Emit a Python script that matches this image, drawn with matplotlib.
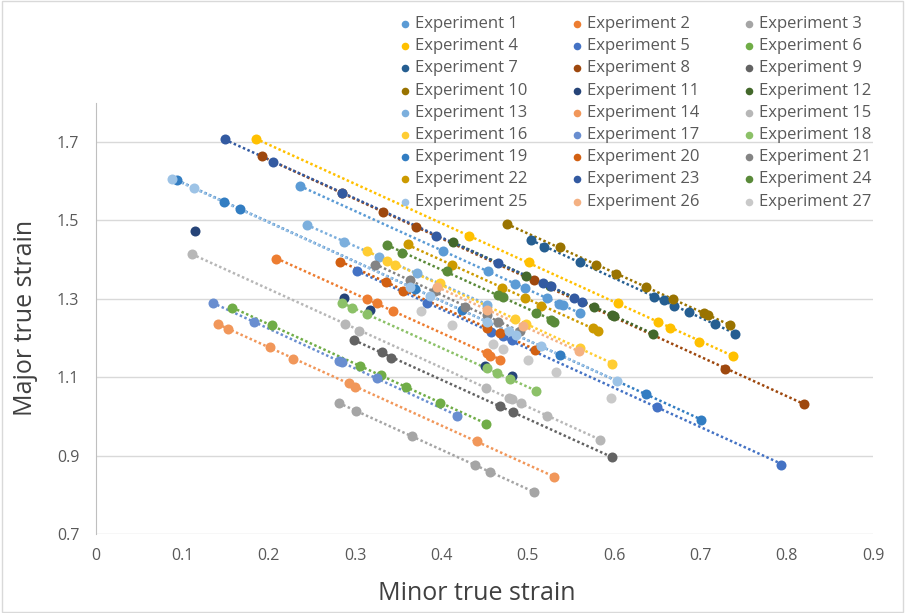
import matplotlib
matplotlib.use("Agg")
import matplotlib.pyplot as plt
import numpy as np
from matplotlib.patches import Rectangle

plt.rcParams["font.family"] = ["Open Sans", "DejaVu Sans"]

# ── data (minor strain x, major strain y) ──────────────────────────────
exp_x = {
    1: [0.236, 0.402, 0.454, 0.485, 0.497, 0.522, 0.536, 0.541, 0.561],
    2: [0.209, 0.314, 0.325, 0.344, 0.453, 0.456, 0.468],
    3: [0.281, 0.301, 0.366, 0.439, 0.456, 0.507],
    4: [0.185, 0.432, 0.501, 0.605, 0.651, 0.665, 0.699, 0.738],
    5: [0.302, 0.383, 0.458, 0.471, 0.482, 0.650, 0.794],
    6: [0.158, 0.204, 0.306, 0.330, 0.359, 0.399, 0.452],
    7: [0.504, 0.519, 0.561, 0.646, 0.658, 0.670, 0.687, 0.717, 0.740],
    8: [0.192, 0.285, 0.332, 0.371, 0.507, 0.729, 0.820],
    9: [0.299, 0.331, 0.342, 0.468, 0.483, 0.598],
    10: [0.476, 0.537, 0.579, 0.602, 0.637, 0.668, 0.704, 0.709, 0.734],
    11: [0.115, 0.287, 0.317, 0.451, 0.482],
    12: [0.414, 0.498, 0.526, 0.577, 0.598, 0.600, 0.645],
    13: [0.244, 0.287, 0.328, 0.372, 0.453],
    14: [0.141, 0.153, 0.202, 0.228, 0.293, 0.300, 0.441, 0.531],
    15: [0.111, 0.288, 0.305, 0.452, 0.478, 0.482, 0.492, 0.522, 0.584],
    16: [0.314, 0.337, 0.346, 0.399, 0.485, 0.498, 0.561, 0.598],
    17: [0.135, 0.183, 0.281, 0.285, 0.326, 0.418],
    18: [0.285, 0.297, 0.314, 0.453, 0.465, 0.479, 0.510],
    19: [0.094, 0.148, 0.167, 0.370, 0.424, 0.538, 0.637, 0.701],
    20: [0.283, 0.336, 0.356, 0.453, 0.468, 0.509],
    21: [0.323, 0.364, 0.393, 0.427, 0.453, 0.466, 0.491],
    22: [0.361, 0.412, 0.470, 0.497, 0.516, 0.576, 0.582],
    23: [0.149, 0.205, 0.285, 0.394, 0.466, 0.518, 0.527, 0.554, 0.563],
    24: [0.337, 0.355, 0.406, 0.466, 0.472, 0.510, 0.527, 0.531],
    25: [0.088, 0.114, 0.364, 0.387, 0.453, 0.478, 0.487, 0.516, 0.603],
    26: [0.395, 0.453, 0.495, 0.559],
    27: [0.377, 0.412, 0.460, 0.471, 0.500, 0.533, 0.597],
}
exp_y = {
    1: [1.588, 1.421, 1.372, 1.337, 1.327, 1.302, 1.287, 1.283, 1.264],
    2: [1.402, 1.299, 1.289, 1.269, 1.162, 1.155, 1.145],
    3: [1.034, 1.015, 0.949, 0.875, 0.859, 0.808],
    4: [1.708, 1.460, 1.393, 1.289, 1.242, 1.225, 1.191, 1.155],
    5: [1.370, 1.289, 1.214, 1.204, 1.194, 1.024, 0.877],
    6: [1.276, 1.232, 1.129, 1.106, 1.075, 1.034, 0.981],
    7: [1.450, 1.433, 1.393, 1.305, 1.296, 1.282, 1.265, 1.236, 1.211],
    8: [1.663, 1.569, 1.522, 1.484, 1.347, 1.122, 1.032],
    9: [1.195, 1.163, 1.150, 1.026, 1.010, 0.896],
    10: [1.491, 1.431, 1.386, 1.364, 1.331, 1.299, 1.264, 1.259, 1.233],
    11: [1.472, 1.302, 1.272, 1.128, 1.104],
    12: [1.444, 1.357, 1.333, 1.280, 1.259, 1.255, 1.211],
    13: [1.489, 1.446, 1.406, 1.366, 1.285],
    14: [1.236, 1.223, 1.176, 1.147, 1.084, 1.076, 0.936, 0.846],
    15: [1.415, 1.235, 1.219, 1.073, 1.047, 1.045, 1.033, 1.000, 0.941],
    16: [1.421, 1.397, 1.387, 1.340, 1.248, 1.236, 1.174, 1.134],
    17: [1.290, 1.240, 1.142, 1.138, 1.097, 1.002],
    18: [1.289, 1.276, 1.262, 1.123, 1.111, 1.096, 1.064],
    19: [1.603, 1.546, 1.529, 1.325, 1.272, 1.157, 1.057, 0.990],
    20: [1.395, 1.344, 1.321, 1.225, 1.213, 1.170],
    21: [1.387, 1.348, 1.319, 1.280, 1.259, 1.240, 1.217],
    22: [1.439, 1.387, 1.327, 1.302, 1.282, 1.225, 1.219],
    23: [1.708, 1.650, 1.569, 1.461, 1.391, 1.340, 1.333, 1.303, 1.293],
    24: [1.436, 1.418, 1.370, 1.310, 1.304, 1.264, 1.247, 1.242],
    25: [1.606, 1.582, 1.330, 1.306, 1.242, 1.217, 1.208, 1.179, 1.089],
    26: [1.330, 1.272, 1.231, 1.166],
    27: [1.268, 1.234, 1.185, 1.173, 1.145, 1.113, 1.047],
}
# series drawn without a trendline
no_trend = [11, 27]

colors = ["#5B9BD5", "#ED7D31", "#A5A5A5", "#FFC000", "#4472C4", "#70AD47",
          "#255E91", "#9E480E", "#636363", "#997300", "#264478", "#43682B",
          "#7CAFDD", "#F1975A", "#B7B7B7", "#FFCD33", "#698ED0", "#8CC168",
          "#327DC2", "#D26012", "#848484", "#CC9A00", "#335AA1", "#5A8A39",
          "#9DC3E6", "#F4B183", "#C9C9C9"]

W, H = 905, 613
fig = plt.figure(figsize=(W / 100, H / 100), dpi=100)
ax = fig.add_axes([96 / W, 1 - 534 / H, 777 / W, 431.25 / H])

for k in range(1, 28):
    x = np.array(exp_x[k]); y = np.array(exp_y[k])
    c = colors[k - 1]
    if k not in no_trend:
        m, b = np.polyfit(x, y, 1)
        xs = np.array([x.min(), x.max()])
        ax.plot(xs, m * xs + b, color=c, lw=1.8, linestyle=(0, (1, 1)),
                zorder=2)
    ax.scatter(x, y, s=52, color=c, linewidths=0, zorder=3 + k * 0.01)

ax.set_xlim(0, 0.9)
ax.set_ylim(0.7, 1.8)
ax.set_xticks(np.arange(0, 0.91, 0.1))
ax.set_xticklabels(["0"] + [f"{v:.1f}" for v in np.arange(0.1, 0.91, 0.1)])
ax.set_yticks(np.arange(0.7, 1.71, 0.2))
ax.set_yticklabels([f"{v:.1f}" for v in np.arange(0.7, 1.71, 0.2)])
ax.grid(axis="y", color="#D9D9D9", lw=1)
ax.set_axisbelow(True)
for s in ["top", "right", "bottom"]:
    ax.spines[s].set_visible(False)
ax.spines["left"].set_color("#BFBFBF")
ax.tick_params(length=0, labelsize=11.5, labelcolor="#595959")
ax.tick_params(axis="x", pad=10)
ax.tick_params(axis="y", pad=12)
ax.set_xlabel("Minor true strain", fontsize=18, color="#404040")
ax.set_ylabel("Major true strain", fontsize=18, color="#404040")
ax.xaxis.set_label_coords(0.49, -0.108)
ax.yaxis.set_label_coords(-0.075, 0.5)

# legend: 3 columns, row-wise order, drawn over the plot without a frame
lax = fig.add_axes([0, 0, 1, 1], zorder=5)
lax.set_xlim(0, W); lax.set_ylim(H, 0); lax.axis("off")
for i in range(27):
    row, col = divmod(i, 3)
    mx = 405 + col * 172
    my = 24 + row * 22.2
    lax.scatter([mx], [my], s=30, color=colors[i], linewidths=0)
    lax.text(mx + 10, my, f"Experiment {i + 1}", fontsize=12,
             color="#595959", va="center", ha="left")

fig.patches.append(Rectangle((0.002, 0.002), 0.996, 0.996,
                             transform=fig.transFigure, fill=False,
                             edgecolor="#D9D9D9", lw=1))

fig.savefig("out.png", dpi=100)
